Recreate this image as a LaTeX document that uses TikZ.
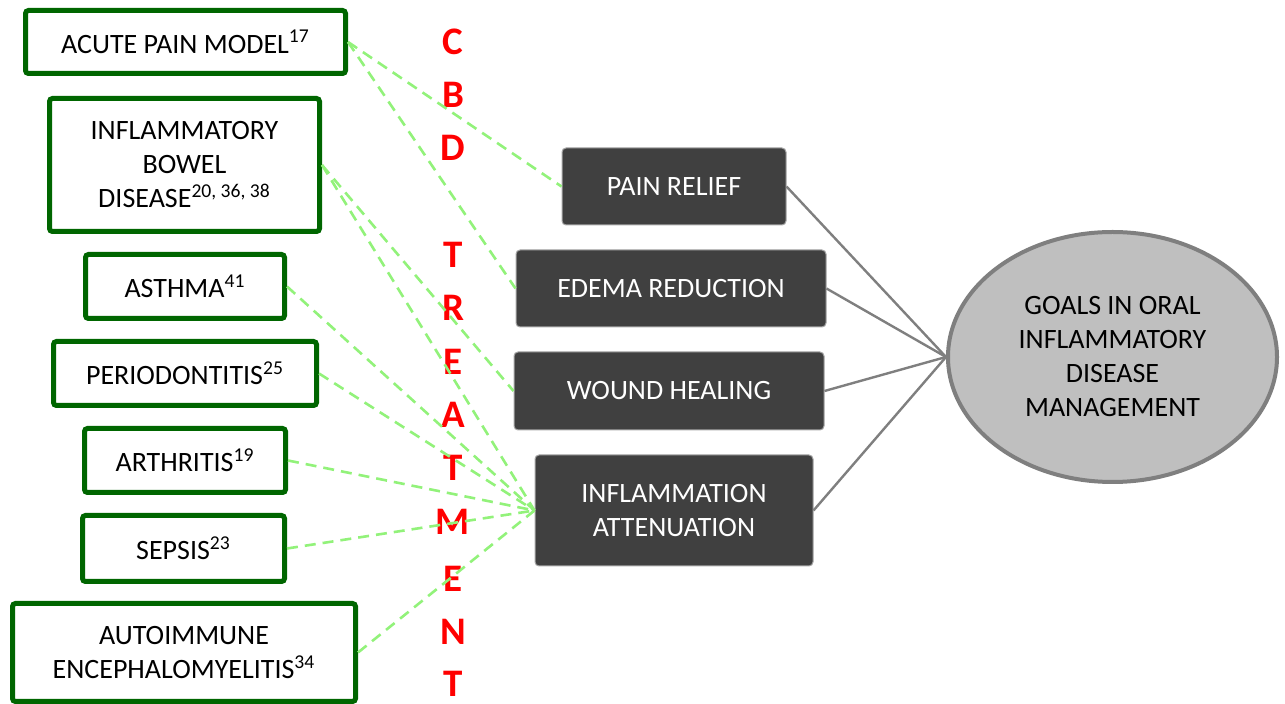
\documentclass[tikz,border=0pt]{standalone}
\usepackage{fontspec}
\setmainfont{Carlito}
\usepackage{xcolor}
\usetikzlibrary{shapes.geometric}

\definecolor{boxgreen}{HTML}{006600}
\definecolor{dashgreen}{HTML}{92F27A}
\definecolor{goalgray}{HTML}{BFBFBF}
\definecolor{rimgray}{HTML}{7F7F7F}
\definecolor{darkbox}{HTML}{404040}

\tikzset{
  model/.style={draw=boxgreen, line width=2.5pt, rounded corners=1.5pt, fill=white,
    align=center, font=\fontsize{14}{17}\selectfont, inner sep=2pt},
  goal/.style={draw=gray!70, line width=0.5pt, rounded corners=2pt, fill=darkbox,
    text=white, align=center, font=\fontsize{14}{17}\selectfont, inner sep=2pt},
  target/.style={ellipse, draw=rimgray, line width=2pt, fill=goalgray,
    align=center, font=\fontsize{14}{17}\selectfont, inner sep=0pt},
  cbd/.style={text=red, font=\fontsize{19.5}{20}\selectfont\bfseries, inner sep=0pt},
  link/.style={dashgreen, line width=1.3pt, dash pattern=on 5.5pt off 3.5pt},
  feed/.style={rimgray, line width=1.2pt}
}

\begin{document}
\begin{tikzpicture}[x=0.5pt, y=-0.5pt]
\useasboundingbox (0,0) rectangle (1285,704);

% red vertical text
\node[cbd] (c1) at (453,42) {C};
\node[cbd] (c2) at (453,95) {B};
\node[cbd] (c3) at (453,148) {D};
\node[cbd] (t1) at (453,255) {T};
\node[cbd] (t2) at (453,308) {R};
\node[cbd] (t3) at (453,362) {E};
\node[cbd] (t4) at (453,415) {A};
\node[cbd] (t5) at (453,468) {T};
\node[cbd] (t6) at (453,522) {M};
\node[cbd] (t7) at (453,579) {E};
\node[cbd] (t8) at (453,632) {N};
\node[cbd] (t9) at (453,684) {T};

% disease models
\node[model, minimum width=160pt, minimum height=31.5pt] (acute) at (185.5,42) {ACUTE PAIN MODEL\textsuperscript{17}};
\node[model, minimum width=135pt, minimum height=66.5pt] (ibd) at (184.5,165) {INFLAMMATORY\\BOWEL\\DISEASE\textsuperscript{20, 36, 38}};
\node[model, minimum width=99.5pt, minimum height=32pt] (asthma) at (185,286.5) {ASTHMA\textsuperscript{41}};
\node[model, minimum width=131.5pt, minimum height=32pt] (perio) at (185,373.5) {PERIODONTITIS\textsuperscript{25}};
\node[model, minimum width=100.5pt, minimum height=32pt] (arth) at (185,460.5) {ARTHRITIS\textsuperscript{19}};
\node[model, minimum width=101pt, minimum height=33pt] (sepsis) at (183.5,548.5) {SEPSIS\textsuperscript{23}};
\node[model, minimum width=171.5pt, minimum height=49pt] (auto) at (184,652.5) {AUTOIMMUNE\\ENCEPHALOMYELITIS\textsuperscript{34}};

% treatment goals
\node[goal, minimum width=112pt, minimum height=38.5pt] (pain) at (674,186.5) {PAIN RELIEF};
\node[goal, minimum width=155pt, minimum height=38.5pt] (edema) at (671,288.5) {EDEMA REDUCTION};
\node[goal, minimum width=155pt, minimum height=39pt] (wound) at (669,391) {WOUND HEALING};
\node[goal, minimum width=139pt, minimum height=55.5pt] (infl) at (674,510.5) {INFLAMMATION\\ATTENUATION};

\node[target, minimum width=164.5pt, minimum height=125pt] (oral) at (1112.5,357) {GOALS IN ORAL\\INFLAMMATORY\\DISEASE\\MANAGEMENT};

% green links
\draw[link] (acute.east) -- (pain.west);
\draw[link] (acute.east) -- (edema.west);
\draw[link] (ibd.east) -- (wound.west);
\draw[link] (ibd.east) -- (infl.west);
\draw[link] (asthma.east) -- (infl.west);
\draw[link] (perio.east) -- (infl.west);
\draw[link] (arth.east) -- (infl.west);
\draw[link] (sepsis.east) -- (infl.west);
\draw[link] (auto.east) -- (infl.west);

% gray feeds
\draw[feed] (pain.east) -- (oral.west);
\draw[feed] (edema.east) -- (oral.west);
\draw[feed] (wound.east) -- (oral.west);
\draw[feed] (infl.east) -- (oral.west);
\end{tikzpicture}
\end{document}
